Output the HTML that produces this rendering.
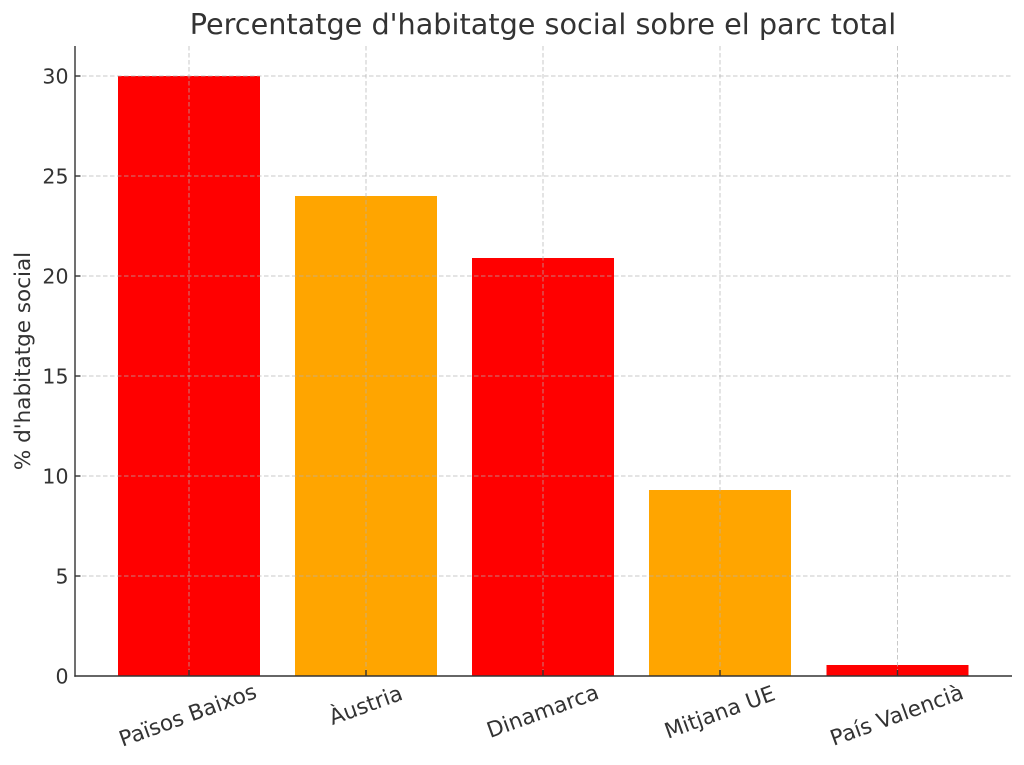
<!DOCTYPE html>
<html><head><meta charset="utf-8"><style>
html,body{margin:0;padding:0;background:#fff;}
svg{display:block;}
text{font-family:"DejaVu Sans","Liberation Sans",sans-serif;fill:#333;}
</style></head><body>
<svg width="1024" height="765" viewBox="0 0 1024 765" xmlns="http://www.w3.org/2000/svg">
<rect width="1024" height="765" fill="#fff"/>
<text x="543" y="34" font-size="28.7" text-anchor="middle">Percentatge d'habitatge social sobre el parc total</text>
<!-- bars -->
<rect x="118" y="76" width="142" height="600" fill="#ff0000"/>
<rect x="295" y="196" width="142" height="480" fill="#ffa500"/>
<rect x="472" y="258" width="142" height="418" fill="#ff0000"/>
<rect x="649" y="490" width="142" height="186" fill="#ffa500"/>
<rect x="826.5" y="665" width="142" height="11" fill="#ff0000"/>
<!-- grid -->
<g stroke="#b0b0b0" stroke-opacity="0.7" stroke-width="1" stroke-dasharray="4.5,2.5" fill="none">
<line x1="75" y1="76" x2="1012" y2="76"/>
<line x1="75" y1="176" x2="1012" y2="176"/>
<line x1="75" y1="276" x2="1012" y2="276"/>
<line x1="75" y1="376" x2="1012" y2="376"/>
<line x1="75" y1="476" x2="1012" y2="476"/>
<line x1="75" y1="576" x2="1012" y2="576"/>
<line x1="189" y1="46" x2="189" y2="676"/>
<line x1="366" y1="46" x2="366" y2="676"/>
<line x1="543" y1="46" x2="543" y2="676"/>
<line x1="720" y1="46" x2="720" y2="676"/>
<line x1="897.5" y1="46" x2="897.5" y2="676"/>
</g>
<!-- axes -->
<g stroke="#333" stroke-width="1.4" fill="none">
<line x1="75" y1="46" x2="75" y2="676.7"/>
<line x1="74.3" y1="676" x2="1012" y2="676"/>
<line x1="75" y1="76" x2="80.5" y2="76"/>
<line x1="75" y1="176" x2="80.5" y2="176"/>
<line x1="75" y1="276" x2="80.5" y2="276"/>
<line x1="75" y1="376" x2="80.5" y2="376"/>
<line x1="75" y1="476" x2="80.5" y2="476"/>
<line x1="75" y1="576" x2="80.5" y2="576"/>
<line x1="189" y1="676" x2="189" y2="670"/>
<line x1="366" y1="676" x2="366" y2="670"/>
<line x1="543" y1="676" x2="543" y2="670"/>
<line x1="720" y1="676" x2="720" y2="670"/>
<line x1="897.5" y1="676" x2="897.5" y2="670"/>
</g>
<!-- y tick labels -->
<g font-size="20.5" text-anchor="end">
<text x="68.5" y="83.5">30</text>
<text x="68.5" y="183.5">25</text>
<text x="68.5" y="283.5">20</text>
<text x="68.5" y="383.5">15</text>
<text x="68.5" y="483.5">10</text>
<text x="68.5" y="583.5">5</text>
<text x="68.5" y="683.5">0</text>
</g>
<text x="0" y="0" font-size="21.5" text-anchor="middle" transform="translate(30,361) rotate(-90)">% d'habitatge social</text>
<!-- x tick labels -->
<g font-size="21.6" text-anchor="middle">
<text x="0" y="0" dominant-baseline="central" transform="translate(188,716) rotate(-20)">Països Baixos</text>
<text x="0" y="0" dominant-baseline="central" transform="translate(366,706) rotate(-20)">Àustria</text>
<text x="0" y="0" dominant-baseline="central" transform="translate(543,712) rotate(-20)">Dinamarca</text>
<text x="0" y="0" dominant-baseline="central" transform="translate(720,713) rotate(-20)">Mitjana UE</text>
<text x="0" y="0" dominant-baseline="central" transform="translate(897,716) rotate(-20)">País Valencià</text>
</g>
</svg>
</body></html>
